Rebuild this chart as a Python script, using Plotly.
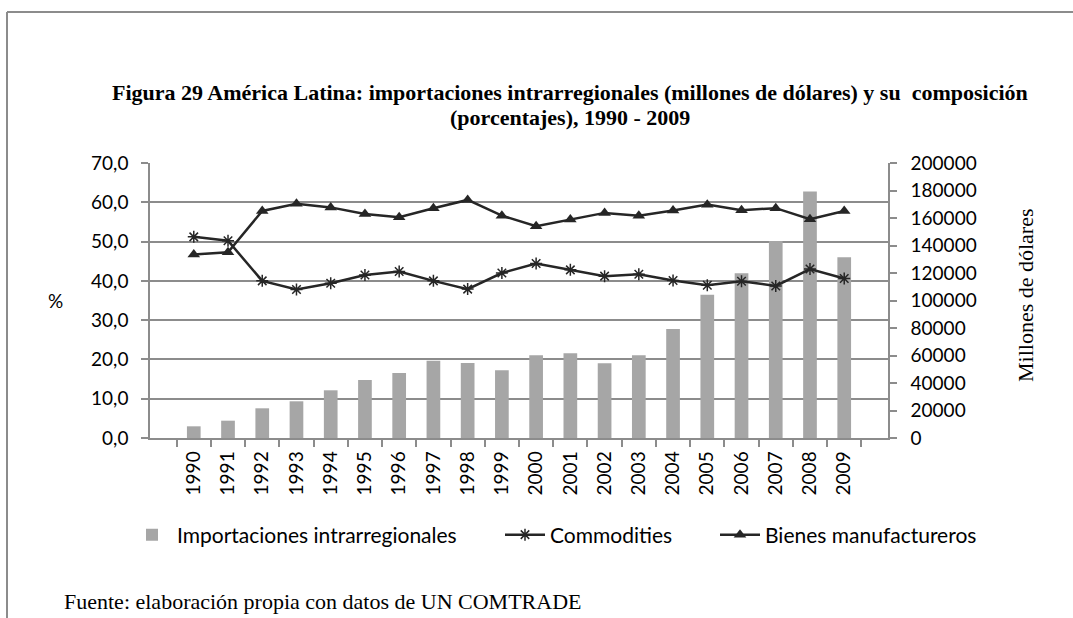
import plotly.graph_objects as go

years = [str(y) for y in range(1990, 2010)]
importaciones = [8500, 12600, 21600, 26700, 34700, 42200, 47300, 56200, 54500, 49200,
                 60100, 61600, 54300, 60100, 79300, 104200, 119800, 143300, 179200, 131400]
commodities = [51.2, 50.2, 40.0, 37.8, 39.4, 41.5, 42.4, 40.0, 37.9, 42.0,
               44.4, 42.8, 41.2, 41.7, 40.1, 38.9, 39.9, 38.7, 43.0, 40.6]
manufactureros = [46.7, 47.3, 57.8, 59.6, 58.7, 57.0, 56.2, 58.5, 60.6, 56.6,
                  53.9, 55.6, 57.3, 56.6, 57.9, 59.4, 58.0, 58.5, 55.7, 57.8]
title_lines = ["Figura 29 América Latina: importaciones intrarregionales (millones de dólares) y su  composición",
               "(porcentajes), 1990 - 2009"]

W, H = 1073, 618
L, R, T, B = 150, 888, 163, 438
pw, ph = R - L, B - T

def px(x):
    return (x - L) / pw

def py(y):
    return (B - y) / ph

SANS = "Lato, sans-serif"
TICKFONT = dict(family=SANS, size=19, color="#000000")
LEGFONT = dict(family=SANS, size=21, color="#000000")
SERIF = "Liberation Serif, Times New Roman, serif"
LINEC = "#262626"
AXC = "#8c8c8c"

fig = go.Figure()
fig.add_trace(go.Bar(
    x=years, y=importaciones, name="Importaciones intrarregionales",
    marker=dict(color="#A6A6A6", line=dict(width=0)), yaxis="y", legendwidth=318))
fig.add_trace(go.Scatter(
    x=years, y=commodities, name="Commodities", mode="lines+markers",
    line=dict(color=LINEC, width=2.5),
    marker=dict(symbol="asterisk-open", size=10, color=LINEC, line=dict(color=LINEC, width=1.5)),
    yaxis="y2", legendwidth=160))
fig.add_trace(go.Scatter(
    x=years, y=manufactureros, name="Bienes manufactureros", mode="lines+markers",
    line=dict(color=LINEC, width=2.5),
    marker=dict(symbol="triangle-up", size=11, color=LINEC),
    yaxis="y2"))

fig.update_layout(
    width=W, height=H,
    margin=dict(l=L, r=W - R, t=T, b=H - B, pad=0, autoexpand=False),
    paper_bgcolor="white", plot_bgcolor="white",
    separators=",.",
    bargap=0.6,
    showlegend=True,
    legend=dict(orientation="h", x=px(127), y=py(535), xanchor="left", yanchor="middle",
                font=LEGFONT, bgcolor="rgba(0,0,0,0)", itemwidth=40,
                traceorder="normal"),
    xaxis=dict(
        type="category", tickangle=-90, tickfont=TICKFONT, automargin=False,
        showline=True, linecolor=AXC, linewidth=1.5,
        ticks="outside", ticklen=7, tickcolor=AXC, tickwidth=1.5, tickson="boundaries",
        showgrid=False, zeroline=False, ticklabelstandoff=4),
    yaxis=dict(
        side="right", range=[0, 200000], dtick=20000, tickformat="d", automargin=False,
        tickfont=TICKFONT, showgrid=False, zeroline=False,
        showline=True, linecolor=AXC, linewidth=1.5,
        ticks="outside", ticklen=7, tickcolor=AXC, tickwidth=1.5, ticklabelstandoff=10),
    yaxis2=dict(
        side="left", overlaying="y", range=[0, 70], dtick=10, tickformat=".1f", automargin=False,
        tickfont=TICKFONT, showgrid=True, gridcolor=AXC, gridwidth=1.5,
        zeroline=False, showline=True, linecolor=AXC, linewidth=1.5,
        ticks="outside", ticklen=7, tickcolor=AXC, tickwidth=1.5, ticklabelstandoff=9),
)

# title (two lines, tighter spacing like the document caption)
for i, (line, yc) in enumerate(zip(title_lines, [93, 117])):
    fig.add_annotation(text="<b>" + line + "</b>", xref="paper", yref="paper",
                       x=px(570), y=py(yc), showarrow=False,
                       xanchor="center", yanchor="middle",
                       font=dict(family=SERIF, size=22, color="#000000"))

fig.add_annotation(text="%", xref="paper", yref="paper", x=px(55), y=py(300),
                   showarrow=False, font=TICKFONT, xanchor="center", yanchor="middle")
fig.add_annotation(text="Millones de dólares", xref="paper", yref="paper", x=px(1025), y=py(295),
                   showarrow=False, textangle=-90, xanchor="center", yanchor="middle",
                   font=dict(family=SERIF, size=22, color="#000000"))
fig.add_annotation(text="Fuente: elaboración propia con datos de UN COMTRADE",
                   xref="paper", yref="paper", x=px(62), y=py(601),
                   showarrow=False, xanchor="left", yanchor="middle",
                   font=dict(family=SERIF, size=22, color="#000000"))

# outer frame
fig.add_shape(type="line", xref="paper", yref="paper", x0=px(7), x1=px(1073), y0=py(12), y1=py(12),
              line=dict(color="#8c8c8c", width=2))
fig.add_shape(type="line", xref="paper", yref="paper", x0=px(7), x1=px(7), y0=py(12), y1=py(620),
              line=dict(color="#8c8c8c", width=2))

fig.write_html(
    "out.html",
    config={"displayModeBar": False},
    post_script="document.body.style.margin='0px';document.body.style.overflow='hidden';",
)
